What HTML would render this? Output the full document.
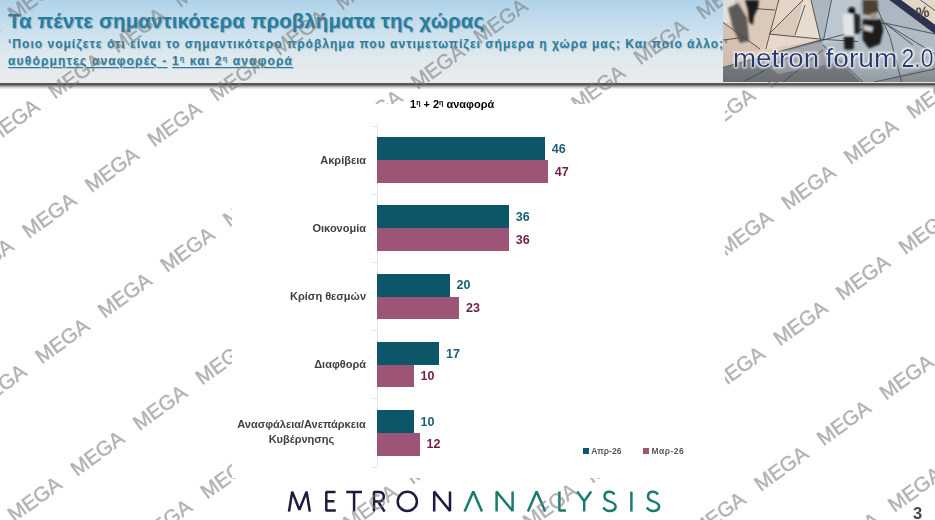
<!DOCTYPE html>
<html><head><meta charset="utf-8">
<style>
*{margin:0;padding:0;box-sizing:border-box}
html,body{width:935px;height:520px;overflow:hidden;background:#fff}
body{position:relative;font-family:"Liberation Sans",sans-serif}
.a{position:absolute;white-space:nowrap}
#hdr{position:absolute;left:0;top:0;width:935px;height:82px;background:linear-gradient(to bottom,#afd2e9 0%,#c9e0ee 35%,#dde8ee 65%,#e9eced 100%)}
#shadow{position:absolute;left:0;top:81.2px;width:935px;height:9px;background:linear-gradient(to bottom,#eceeee 0,#f3f4f4 1.4px,#8a8a8a 2.1px,#474747 2.7px,#4a4a4a 3.4px,#8c8c8c 4.7px,#cfcfcf 6.4px,#fff 8.2px)}
.ttl{color:#257fa1;font-weight:bold;text-shadow:1px 1px 1px rgba(0,40,70,.3)}
.sub{color:#2a7fa0;font-weight:bold;text-shadow:0.8px 0.8px 1px rgba(0,40,70,.22)}
.u{text-decoration:underline;text-decoration-thickness:1px;text-underline-offset:2px}
#chart{position:absolute;left:232px;top:104px;width:493px;height:374px;background:#fff}
.bt{position:absolute;background:#0d5568}
.bm{position:absolute;background:#9c5576}
.vt{position:absolute;color:#1a5e72;font-weight:bold;font-size:12.5px;line-height:14px}
.vm{position:absolute;color:#6e1d47;font-weight:bold;font-size:12.5px;line-height:14px}
.cl{position:absolute;color:#404040;font-weight:bold;font-size:11px;line-height:13px;text-align:right;right:0}
.logo{position:absolute;top:489px;font-size:27px;line-height:27px;font-weight:normal}
</style></head><body>
<div id="hdr"></div>
<div class="a ttl" style="left:8px;top:9.3px;font-size:20.4px;line-height:24px;letter-spacing:0.14px">Τα πέντε σημαντικότερα προβλήματα της χώρας</div>
<div class="a sub" style="left:8px;top:36.8px;font-size:12px;line-height:14px;letter-spacing:1.02px">‘Ποιο νομίζετε ότι είναι το σημαντικότερο πρόβλημα που αντιμετωπίζει σήμερα η χώρα μας; Και ποιο άλλο;’</div>
<div class="a sub" style="left:8px;top:51.5px;font-size:12px;line-height:14px;letter-spacing:1.18px"><span class="u">αυθόρμητες αναφορές -</span> <span class="u">1<sup style="font-size:7px;vertical-align:4px">η</sup> και 2<sup style="font-size:7px;vertical-align:4px">η</sup> αναφορά</span></div>


<div id="shadow"></div>

<!-- logo -->
<svg class="a" style="left:0;top:480px" width="935" height="40" viewBox="0 480 935 40">
<g fill="none" stroke-width="2.5" stroke-linejoin="bevel" stroke-linecap="butt">
<g stroke="#1c1b40">
<path d="M289 511.6 L292.2 491.6 L299.4 509.8 L306.6 491.6 L309.8 511.6"/>
<path d="M335.6 492.1 H326.3 V510.5 H335.8 M326.3 501.2 H334.4"/>
<path d="M346.2 492.1 H362 M354.1 492.1 V511.6"/>
<path d="M374 511.6 V492.1 H378.5 Q383.8 492.1 383.8 496.8 Q383.8 501.5 378.5 501.5 H374 M378 501.5 L384.6 511.6"/>
<circle cx="407.3" cy="501.4" r="9.6"/>
<path d="M434.2 511.6 V491.6 L450 511 V491.6"/>
</g>
<g stroke="#1a7b70">
<path d="M464.6 511.6 L473.3 491.4 L482 511.6"/>
<path d="M496.6 511.6 V491.6 L512.6 511 V491.6"/>
<path d="M527.9 511.6 L536.6 491.4 L545.3 511.6"/>
<path d="M559.4 491.6 V510.5 H566"/>
<path d="M577.2 491.6 L584.2 501.2 L591.2 491.6 M584.2 501.2 V511.6"/>
<path d="M614.5 494.4 Q612.5 491.8 609.4 491.8 Q604.5 491.8 604.5 496.5 Q604.5 499.8 609.5 501.4 Q615.6 503.2 615.6 506.6 Q615.6 510.9 609.6 510.9 Q605.3 510.9 603.4 507.4"/>
<path d="M631.4 491.6 V511.6"/>
<path d="M658 494.4 Q656 491.8 652.9 491.8 Q648 491.8 648 496.5 Q648 499.8 653 501.4 Q659.1 503.2 659.1 506.6 Q659.1 510.9 653.1 510.9 Q648.8 510.9 646.9 507.4"/>
</g></g></svg>

<!-- watermark -->
<svg id="wm" class="a" style="left:0;top:0" width="935" height="520"><g font-family="Liberation Sans" font-size="20.6" fill="#7a7a7a" stroke="#7a7a7a" stroke-width="0.45" opacity="0.58"><text x="-48.4" y="67.3" transform="rotate(-36.13 -48.4 67.3)">MEGA</text><text x="14.2" y="21.6" transform="rotate(-36.13 14.2 21.6)">MEGA</text><text x="-7.8" y="145.2" transform="rotate(-36.13 -7.8 145.2)">MEGA</text><text x="54.8" y="99.5" transform="rotate(-36.13 54.8 99.5)">MEGA</text><text x="117.4" y="53.8" transform="rotate(-36.13 117.4 53.8)">MEGA</text><text x="180.0" y="8.1" transform="rotate(-36.13 180.0 8.1)">MEGA</text><text x="-33.8" y="284.7" transform="rotate(-36.13 -33.8 284.7)">MEGA</text><text x="28.8" y="239.0" transform="rotate(-36.13 28.8 239.0)">MEGA</text><text x="91.4" y="193.3" transform="rotate(-36.13 91.4 193.3)">MEGA</text><text x="154.0" y="147.6" transform="rotate(-36.13 154.0 147.6)">MEGA</text><text x="216.6" y="101.9" transform="rotate(-36.13 216.6 101.9)">MEGA</text><text x="279.2" y="56.2" transform="rotate(-36.13 279.2 56.2)">MEGA</text><text x="341.8" y="10.5" transform="rotate(-36.13 341.8 10.5)">MEGA</text><text x="-20.8" y="410.2" transform="rotate(-36.13 -20.8 410.2)">MEGA</text><text x="41.8" y="364.5" transform="rotate(-36.13 41.8 364.5)">MEGA</text><text x="104.4" y="318.8" transform="rotate(-36.13 104.4 318.8)">MEGA</text><text x="167.0" y="273.1" transform="rotate(-36.13 167.0 273.1)">MEGA</text><text x="229.6" y="227.4" transform="rotate(-36.13 229.6 227.4)">MEGA</text><text x="292.2" y="181.7" transform="rotate(-36.13 292.2 181.7)">MEGA</text><text x="354.8" y="136.0" transform="rotate(-36.13 354.8 136.0)">MEGA</text><text x="417.4" y="90.3" transform="rotate(-36.13 417.4 90.3)">MEGA</text><text x="480.0" y="44.6" transform="rotate(-36.13 480.0 44.6)">MEGA</text><text x="542.6" y="-1.1" transform="rotate(-36.13 542.6 -1.1)">MEGA</text><text x="-48.3" y="568.3" transform="rotate(-36.13 -48.3 568.3)">MEGA</text><text x="14.3" y="522.6" transform="rotate(-36.13 14.3 522.6)">MEGA</text><text x="76.9" y="476.9" transform="rotate(-36.13 76.9 476.9)">MEGA</text><text x="139.5" y="431.2" transform="rotate(-36.13 139.5 431.2)">MEGA</text><text x="202.1" y="385.5" transform="rotate(-36.13 202.1 385.5)">MEGA</text><text x="264.7" y="339.8" transform="rotate(-36.13 264.7 339.8)">MEGA</text><text x="327.3" y="294.1" transform="rotate(-36.13 327.3 294.1)">MEGA</text><text x="389.9" y="248.4" transform="rotate(-36.13 389.9 248.4)">MEGA</text><text x="452.5" y="202.7" transform="rotate(-36.13 452.5 202.7)">MEGA</text><text x="515.1" y="157.0" transform="rotate(-36.13 515.1 157.0)">MEGA</text><text x="577.7" y="111.3" transform="rotate(-36.13 577.7 111.3)">MEGA</text><text x="640.3" y="65.6" transform="rotate(-36.13 640.3 65.6)">MEGA</text><text x="702.9" y="19.9" transform="rotate(-36.13 702.9 19.9)">MEGA</text><text x="144.5" y="545.5" transform="rotate(-36.13 144.5 545.5)">MEGA</text><text x="207.1" y="499.8" transform="rotate(-36.13 207.1 499.8)">MEGA</text><text x="269.7" y="454.1" transform="rotate(-36.13 269.7 454.1)">MEGA</text><text x="332.3" y="408.4" transform="rotate(-36.13 332.3 408.4)">MEGA</text><text x="394.9" y="362.7" transform="rotate(-36.13 394.9 362.7)">MEGA</text><text x="457.5" y="317.0" transform="rotate(-36.13 457.5 317.0)">MEGA</text><text x="520.1" y="271.3" transform="rotate(-36.13 520.1 271.3)">MEGA</text><text x="582.7" y="225.6" transform="rotate(-36.13 582.7 225.6)">MEGA</text><text x="645.3" y="179.9" transform="rotate(-36.13 645.3 179.9)">MEGA</text><text x="707.9" y="134.2" transform="rotate(-36.13 707.9 134.2)">MEGA</text><text x="770.5" y="88.5" transform="rotate(-36.13 770.5 88.5)">MEGA</text><text x="833.1" y="42.8" transform="rotate(-36.13 833.1 42.8)">MEGA</text><text x="895.7" y="-2.9" transform="rotate(-36.13 895.7 -2.9)">MEGA</text><text x="349.8" y="530.7" transform="rotate(-36.13 349.8 530.7)">MEGA</text><text x="412.4" y="485.0" transform="rotate(-36.13 412.4 485.0)">MEGA</text><text x="475.0" y="439.3" transform="rotate(-36.13 475.0 439.3)">MEGA</text><text x="537.6" y="393.6" transform="rotate(-36.13 537.6 393.6)">MEGA</text><text x="600.2" y="347.9" transform="rotate(-36.13 600.2 347.9)">MEGA</text><text x="662.8" y="302.2" transform="rotate(-36.13 662.8 302.2)">MEGA</text><text x="725.4" y="256.5" transform="rotate(-36.13 725.4 256.5)">MEGA</text><text x="788.0" y="210.8" transform="rotate(-36.13 788.0 210.8)">MEGA</text><text x="850.6" y="165.1" transform="rotate(-36.13 850.6 165.1)">MEGA</text><text x="913.2" y="119.4" transform="rotate(-36.13 913.2 119.4)">MEGA</text><text x="467.0" y="575.1" transform="rotate(-36.13 467.0 575.1)">MEGA</text><text x="529.6" y="529.4" transform="rotate(-36.13 529.6 529.4)">MEGA</text><text x="592.2" y="483.7" transform="rotate(-36.13 592.2 483.7)">MEGA</text><text x="654.8" y="438.0" transform="rotate(-36.13 654.8 438.0)">MEGA</text><text x="717.4" y="392.3" transform="rotate(-36.13 717.4 392.3)">MEGA</text><text x="780.0" y="346.6" transform="rotate(-36.13 780.0 346.6)">MEGA</text><text x="842.6" y="300.9" transform="rotate(-36.13 842.6 300.9)">MEGA</text><text x="905.2" y="255.2" transform="rotate(-36.13 905.2 255.2)">MEGA</text><text x="698.2" y="537.8" transform="rotate(-36.13 698.2 537.8)">MEGA</text><text x="760.8" y="492.1" transform="rotate(-36.13 760.8 492.1)">MEGA</text><text x="823.4" y="446.4" transform="rotate(-36.13 823.4 446.4)">MEGA</text><text x="886.0" y="400.7" transform="rotate(-36.13 886.0 400.7)">MEGA</text><text x="832.0" y="558.6" transform="rotate(-36.13 832.0 558.6)">MEGA</text><text x="894.6" y="513.0" transform="rotate(-36.13 894.6 513.0)">MEGA</text></g></svg>
<!-- photo -->
<svg class="a" style="left:723px;top:0" width="212" height="82" viewBox="0 0 212 82">
 <defs>
  <filter id="bl" x="-5%" y="-5%" width="110%" height="110%"><feGaussianBlur stdDeviation="0.75"/></filter>
  <filter id="bl2" x="-20%" y="-20%" width="140%" height="140%"><feGaussianBlur stdDeviation="1.1"/></filter>
  <filter id="gl" x="-10%" y="-30%" width="120%" height="160%"><feMorphology operator="dilate" radius="1" in="SourceAlpha" result="d"/><feGaussianBlur in="d" stdDeviation="1.2" result="b"/><feFlood flood-color="#ffffff" flood-opacity="0.95"/><feComposite in2="b" operator="in" result="w"/><feMerge><feMergeNode in="w"/><feMergeNode in="SourceGraphic"/></feMerge></filter>
  <linearGradient id="dk" x1="0" y1="0" x2="0" y2="1"><stop offset="0" stop-color="#000" stop-opacity="0"/><stop offset="1" stop-color="#000" stop-opacity="0.18"/></linearGradient>
  <linearGradient id="bg1" x1="0" y1="0" x2="0" y2="1"><stop offset="0" stop-color="#a9b6c0"/><stop offset="1" stop-color="#b3bcc3"/></linearGradient>
 </defs>
 <g filter="url(#bl)">
 <rect x="-2" y="-2" width="216" height="86" fill="url(#bg1)"/>
 <polygon points="-2,-2 88,-2 97.5,40 -2,68.5" fill="#dbc9ba"/>
 <polygon points="-2,-2 12,-2 10,22 -2,24" fill="#e2ddd8"/>
 <polygon points="46,35 97,40 40,50" fill="#e6d9cc"/>
 <polygon points="55,0 80,0 46,34 44,48" fill="#e3d5c7"/>
 <polygon points="80,0 88,0 97,40 72,36" fill="#e8dcd0"/>
 <polygon points="-2,22 37,49 -2,60" fill="#d6c0b1"/>
 <polygon points="-2,68.5 97.5,40 100,46 140,84 -2,84" fill="#7f8489"/>
 <polygon points="35,58 97,42 118,62 55,74" fill="#a2a7ad"/>
 <polygon points="100,44 162,23 212,34 212,84 140,84" fill="#b0bbc4"/>
 <polygon points="150,84 212,64 212,84" fill="#a0a8ae"/>
 <rect x="-2" y="52" width="216" height="32" fill="url(#dk)"/>
 <polygon points="108,0 137,0 135,41 100,44" fill="#bcc7cf"/>
 <polygon points="165,-1 177,-1 214,26 214,35.5" fill="#2d3250"/>
 <polygon points="177,-1 214,-1 214,26" fill="#e3d7c6"/>
 <g stroke="#54463e" stroke-width="0.9" fill="none">
  <path d="M-2 21 L37 49 M55.8 0 L42.8 49 M80 0 L46 34 L96.7 39 M82 5 L72 35 M31 8.5 L52 10 M-2 68 L97.5 40 M0 40 L24 37 M88 0 L97.5 40"/>
 </g>
 <g stroke="#434b55" stroke-width="0.9" fill="none">
  <path d="M108.5 0 L100.5 40 M97 39.2 L135 41.5 M153.5 7 L167 37 L178.7 82 M161.5 23 L212 34 M161.5 23 L212 54 M161.5 23 L190 45 M97 41 L161.5 23 M151 82 L212 69 M100 45 L140 82 M60 82 L100 50 M20 82 L70 55 M196 -1 L214 12"/>
 </g>
 </g>
 <g filter="url(#bl2)">
 <polygon points="5,8 15,3 24,18 26,41 17,43 10,28" fill="#4f4d4b" opacity="0.9"/>
 <polygon points="22,0 36,0 35,8 31,16 30,25 26,22 25,10" fill="#1c1c1c"/>
 <circle cx="128.7" cy="10.4" r="3.5" fill="#141414"/>
 <polygon points="119.5,14 131,14 131.5,36.5 121,37" fill="#dfe4e7"/>
 <polygon points="120.6,36 131,36 130.5,49.6 121.5,49.6" fill="#1a1a1a"/>
 <polygon points="130.4,12.7 137,15 137.4,33 131,34.6" fill="#252525"/>
 <polygon points="139.7,0 154.7,0 155,12 147,15 140,14" fill="#4a4232"/>
 <circle cx="150.5" cy="16" r="3.2" fill="#a89078"/>
 <polygon points="139.7,19.6 158,19.6 160.4,30 157,44 146,48.4 139.7,40" fill="#1a1a1a"/>
 <polygon points="141,25 150,27 149,32 141,30" fill="#d0d0d0"/>
 </g>
 <text x="199.6" y="17.3" font-family="Liberation Sans" font-size="15" font-weight="bold" fill="#4c4743" text-anchor="middle" transform="rotate(-8 199.4 11)">%</text>
 <g filter="url(#gl)" font-family="Liberation Sans" font-size="26" fill="#203b72"><text x="10" y="67" textLength="86" lengthAdjust="spacingAndGlyphs">metron</text><text x="102.5" y="67" textLength="72" lengthAdjust="spacingAndGlyphs">forum</text><text x="178.5" y="67" textLength="32" lengthAdjust="spacingAndGlyphs">2.0</text></g>
</svg>

<div class="a" style="left:723px;top:30px;width:12px;height:25px;overflow:hidden"><div class="a sub" style="left:-715px;top:6.8px;font-size:12px;line-height:14px;letter-spacing:1.02px">‘Ποιο νομίζετε ότι είναι το σημαντικότερο πρόβλημα που αντιμετωπίζει σήμερα η χώρα μας; Και ποιο άλλο;’</div></div>
<!-- chart -->
<div id="chart"></div>
<div class="a" style="left:410px;top:98px;font-size:11px;font-weight:bold;color:#000">1<sup style="font-size:7px;vertical-align:3px">η</sup> + 2<sup style="font-size:7px;vertical-align:3px">η</sup> αναφορά</div>
<div class="a" style="left:376.6px;top:125px;width:1px;height:341px;background:#e2e2e2"></div>

<div class="bt" style="left:377.1px;top:137.35px;width:167.7px;height:22.75px"></div>
<div class="bm" style="left:377.1px;top:160.10px;width:170.6px;height:22.75px"></div>
<div class="vt" style="left:551.80px;top:141.89px">46</div>
<div class="vm" style="left:554.70px;top:164.64px">47</div>
<div class="bt" style="left:377.1px;top:205.40px;width:131.7px;height:22.75px"></div>
<div class="bm" style="left:377.1px;top:228.15px;width:131.7px;height:22.75px"></div>
<div class="vt" style="left:515.80px;top:209.94px">36</div>
<div class="vm" style="left:515.80px;top:232.69px">36</div>
<div class="bt" style="left:377.1px;top:273.75px;width:72.5px;height:22.75px"></div>
<div class="bm" style="left:377.1px;top:296.50px;width:82.0px;height:22.75px"></div>
<div class="vt" style="left:456.60px;top:278.30px">20</div>
<div class="vm" style="left:466.10px;top:301.05px">23</div>
<div class="bt" style="left:377.1px;top:341.95px;width:62.0px;height:22.75px"></div>
<div class="bm" style="left:377.1px;top:364.70px;width:36.5px;height:22.75px"></div>
<div class="vt" style="left:446.10px;top:346.50px">17</div>
<div class="vm" style="left:420.60px;top:369.25px">10</div>
<div class="bt" style="left:377.1px;top:410.05px;width:36.5px;height:22.75px"></div>
<div class="bm" style="left:377.1px;top:432.80px;width:42.5px;height:22.75px"></div>
<div class="vt" style="left:420.60px;top:414.60px">10</div>
<div class="vm" style="left:426.60px;top:437.35px">12</div>

<!-- category labels -->
<div class="a" style="left:232px;top:104px;width:134px;height:360px">
<div class="cl" style="top:49.7px">Ακρίβεια</div>
<div class="cl" style="top:117.8px">Οικονομία</div>
<div class="cl" style="top:186.1px">Κρίση θεσμών</div>
<div class="cl" style="top:254.3px">Διαφθορά</div>
<div class="cl" style="top:312.5px;text-align:center;width:140px;right:-5.5px;line-height:15px">Ανασφάλεια/Ανεπάρκεια<br>Κυβέρνησης</div>
</div>
<!-- ticks -->
<div class="a" style="left:372px;top:125.5px;width:5px;height:1px;background:#e6e6e6"></div>
<div class="a" style="left:372px;top:193.7px;width:5px;height:1px;background:#e6e6e6"></div>
<div class="a" style="left:372px;top:261.9px;width:5px;height:1px;background:#e6e6e6"></div>
<div class="a" style="left:372px;top:330.1px;width:5px;height:1px;background:#e6e6e6"></div>
<div class="a" style="left:372px;top:398.3px;width:5px;height:1px;background:#e6e6e6"></div>
<div class="a" style="left:372px;top:466.5px;width:5px;height:1px;background:#e6e6e6"></div>

<!-- legend -->
<div class="a" style="left:583.2px;top:448.2px;width:5.6px;height:5.6px;background:#0d5568"></div>
<div class="a" style="left:591.2px;top:444.5px;font-size:8.5px;line-height:12px;font-weight:bold;color:#595959">Απρ-26</div>
<div class="a" style="left:643.3px;top:448.2px;width:5.6px;height:5.6px;background:#9c5576"></div>
<div class="a" style="left:651.4px;top:444.5px;font-size:8.5px;line-height:12px;font-weight:bold;color:#595959;letter-spacing:0.5px">Μαρ-26</div>

<!-- page number -->
<div class="a" style="left:913px;top:503.6px;font-size:16.5px;line-height:18px;font-weight:bold;color:#3d4450">3</div>
</body></html>
